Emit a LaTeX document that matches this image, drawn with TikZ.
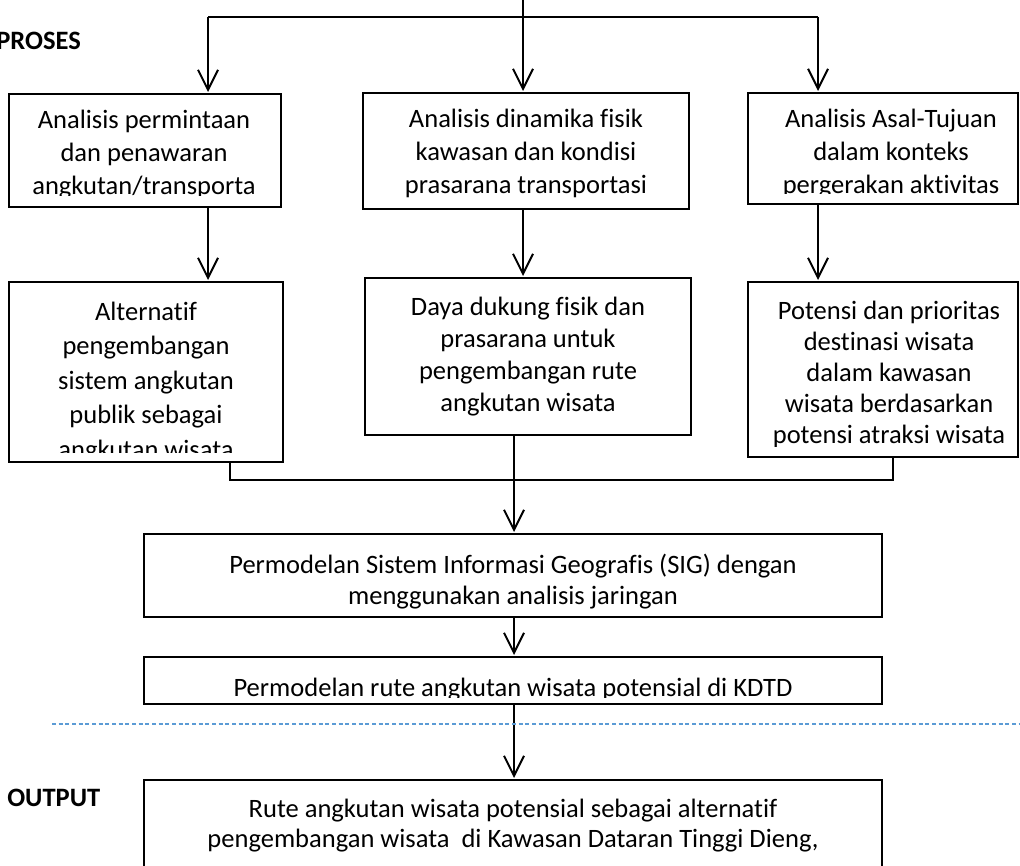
\documentclass[tikz,border=0pt]{standalone}
\usepackage{fontspec}
\setmainfont{Carlito}[Ligatures=NoCommon]
\usetikzlibrary{arrows.meta,fit}
\definecolor{dashblue}{RGB}{91,155,213}
\begin{document}
\begin{tikzpicture}[x=0.75pt,y=-0.75pt,
  box/.style={draw=black,line width=1pt,inner sep=0pt},
  txt/.style={anchor=base,inner sep=0pt,font=\fontsize{19.9pt}{24pt}\selectfont},
  lbl/.style={anchor=base west,inner sep=0pt,font=\fontsize{19.9pt}{24pt}\selectfont\bfseries},
  arr/.style={line width=1.5pt,shorten >=1pt,-{Straight Barb[length=15pt,width=15pt]}},
  thinline/.style={line width=1pt},
  sepline/.style={draw=dashblue,line width=0.8pt,dash pattern=on 3pt off 2pt}]
\clip (0,0) rectangle (1020,866);
\fill[white] (0,0) rectangle (1020,866);

% boxes
\node[box,fit={(9,94)(281,207)}] (a1) {};
\node[box,fit={(363,93)(689,209)}] (a2) {};
\node[box,fit={(748,93)(1018,204)}] (a3) {};
\node[box,fit={(9,282)(283,462)}] (b1) {};
\node[box,fit={(365,278)(691,435)}] (b2) {};
\node[box,fit={(748,282)(1018,457)}] (b3) {};
\node[box,fit={(144,534)(882,617)}] (c1) {};
\node[box,fit={(144,657)(882,704)}] (c2) {};
\node[box,fit={(144,780)(882,900)}] (c3) {};

% side labels
\node[lbl] (proses) at (-4,50) {PROSES};
\node[lbl] (output) at (7,806) {OUTPUT};

% texts
\begin{scope}
\clip (9,94) rectangle (281,196);
\node[txt] (a1t1) at (144,128.5) {Analisis permintaan};
\node[txt] (a1t2) at (144,162) {dan penawaran};
\node[txt] (a1t3) at (144,194.5) {angkutan/transporta};
\end{scope}
\begin{scope}
\clip (363,93) rectangle (689,201);
\node[txt] (a2t1) at (526,128) {Analisis dinamika fisik};
\node[txt] (a2t2) at (526,161) {kawasan dan kondisi};
\node[txt] (a2t3) at (526,193.5) {prasarana transportasi};
\end{scope}
\begin{scope}
\clip (748,93) rectangle (1018,194);
\node[txt] (a3t1) at (891,128) {Analisis Asal-Tujuan};
\node[txt] (a3t2) at (891,161) {dalam konteks};
\node[txt] (a3t3) at (891,193.5) {pergerakan aktivitas};
\end{scope}
\begin{scope}
\clip (9,282) rectangle (283,452.5);
\node[txt] (b1t1) at (146,320) {Alternatif};
\node[txt] (b1t2) at (146,354.5) {pengembangan};
\node[txt] (b1t3) at (146,389) {sistem angkutan};
\node[txt] (b1t4) at (146,423.5) {publik sebagai};
\node[txt] (b1t5) at (146,458) {angkutan wisata};
\end{scope}
\begin{scope}
\clip (365,278) rectangle (691,428);
\node[txt] (b2t1) at (528,315) {Daya dukung fisik dan};
\node[txt] (b2t2) at (528,347) {prasarana untuk};
\node[txt] (b2t3) at (528,379) {pengembangan rute};
\node[txt] (b2t4) at (528,411) {angkutan wisata};
\end{scope}
\begin{scope}
\clip (748,282) rectangle (1018,446.5);
\node[txt] (b3t1) at (889,319) {Potensi dan prioritas};
\node[txt] (b3t2) at (889,350) {destinasi wisata};
\node[txt] (b3t3) at (889,381) {dalam kawasan};
\node[txt] (b3t4) at (889,412) {wisata berdasarkan};
\node[txt] (b3t5) at (889,443) {potensi atraksi wisata};
\end{scope}
\node[txt] (c1t1) at (513,573.5) {Permodelan Sistem Informasi Geografis (SIG) dengan};
\node[txt] (c1t2) at (513,604) {menggunakan analisis jaringan};
\begin{scope}
\clip (144,657) rectangle (882,697);
\node[txt] (c2t1) at (513,696) {Permodelan rute angkutan wisata potensial di KDTD};
\end{scope}
\node[txt] (c3t1) at (513,817) {Rute angkutan wisata potensial sebagai alternatif};
\node[txt] (c3t2) at (513,847) {pengembangan wisata~ di Kawasan Dataran Tinggi Dieng,};

% connectors
\coordinate (ts) at (523,0);
\coordinate (hl) at (208,17);
\coordinate (hr) at (818,17);
\draw[thinline] (hl) -- (hr);
\draw[arr] (ts) -- (ts |- a2.north);
\draw[arr] (hl) -- (hl |- a1.north);
\draw[arr] (hr) -- (hr |- a3.north);
\draw[arr] (a1.south -| hl) -- (b1.north -| hl);
\draw[arr] (a2.south -| ts) -- (b2.north -| ts);
\draw[arr] (a3.south -| hr) -- (b3.north -| hr);
\coordinate (jl) at (230,480);
\coordinate (jr) at (893,480);
\coordinate (jm) at (514,480);
\draw[thinline] (b1.south -| jl) -- (jl) -- (jr) -- (b3.south -| jr);
\draw[arr] (b2.south -| jm) -- (c1.north -| jm);
\draw[arr] (c1.south -| jm) -- (c2.north -| jm);
\draw[arr] (c2.south -| jm) -- (c3.north -| jm);
\coordinate (dl) at (52,724);
\coordinate (dr) at (1020,724);
\draw[sepline] (dl) -- (dr);
\end{tikzpicture}
\end{document}
